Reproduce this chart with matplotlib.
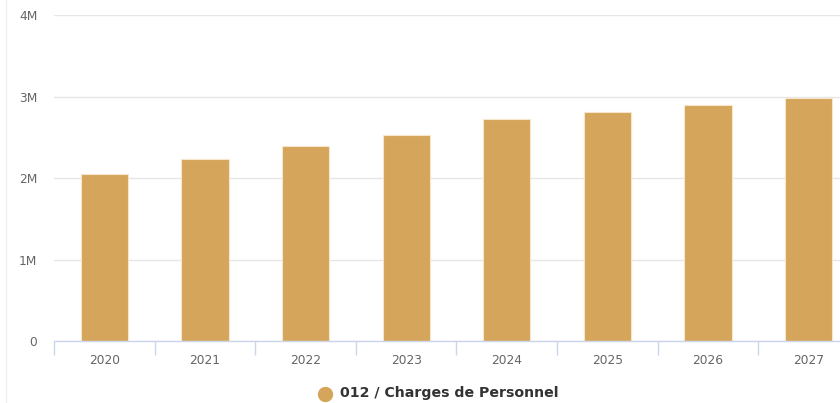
import matplotlib
matplotlib.use("Agg")
import matplotlib.pyplot as plt
from matplotlib.lines import Line2D

categories = ["2020", "2021", "2022", "2023", "2024", "2025", "2026", "2027"]
values = [2.049e6, 2.229e6, 2.389e6, 2.531e6, 2.724e6, 2.81e6, 2.90e6, 2.98e6]
series_name = "012 / Charges de Personnel"
y_ticks = [0, 1e6, 2e6, 3e6, 4e6]
y_tick_labels = ["0", "1M", "2M", "3M", "4M"]

W, H = 840, 403
fig = plt.figure(figsize=(W / 100, H / 100), dpi=100)
fig.patch.set_facecolor("white")

left, right, top, bottom = 54, 859, 15, 341.3
ax = fig.add_axes([left / W, 1 - bottom / H, (right - left) / W, (bottom - top) / H])
ax.set_facecolor("white")

bar_color = "#D4A55A"
x = list(range(len(categories)))
ax.bar(x, values, width=0.47, color=bar_color, edgecolor="#f5e6cc", linewidth=0.8, zorder=3)

ax.set_xlim(-0.5, len(categories) - 0.5)
ax.set_ylim(0, 4e6)
ax.set_yticks(y_ticks)
ax.set_yticklabels(y_tick_labels)
ax.grid(axis="y", color="#e6e6e6", linewidth=1, zorder=0)
ax.tick_params(axis="y", length=0, pad=12, labelsize=8.8, labelcolor="#666666")

ax.set_xticks(x)
ax.set_xticklabels(categories)
ax.set_xticks([i - 0.5 for i in range(len(categories) + 1)], minor=True)
ax.tick_params(axis="x", which="major", length=0, pad=9, labelsize=8.8, labelcolor="#666666")
ax.tick_params(axis="x", which="minor", length=10, width=1, color="#ccd6eb")

for s in ["top", "right", "left"]:
    ax.spines[s].set_visible(False)
ax.spines["bottom"].set_color("#ccd6eb")
ax.spines["bottom"].set_linewidth(1)
ax.spines["bottom"].set_zorder(4)

# legend
fig.add_artist(Line2D([325 / W], [1 - 393.5 / H], marker="o", markersize=10,
                      color=bar_color, linestyle="none", transform=fig.transFigure))
fig.text(340 / W, 1 - 393.5 / H, series_name, fontsize=10.2, fontweight="bold",
         color="#333333", va="center", ha="left")

# faint container border
fig.add_artist(Line2D([6 / W, 6 / W], [0, 1], color="#f0f0f0", linewidth=1,
                      transform=fig.transFigure))

fig.savefig("out.png", dpi=100, facecolor="white")
